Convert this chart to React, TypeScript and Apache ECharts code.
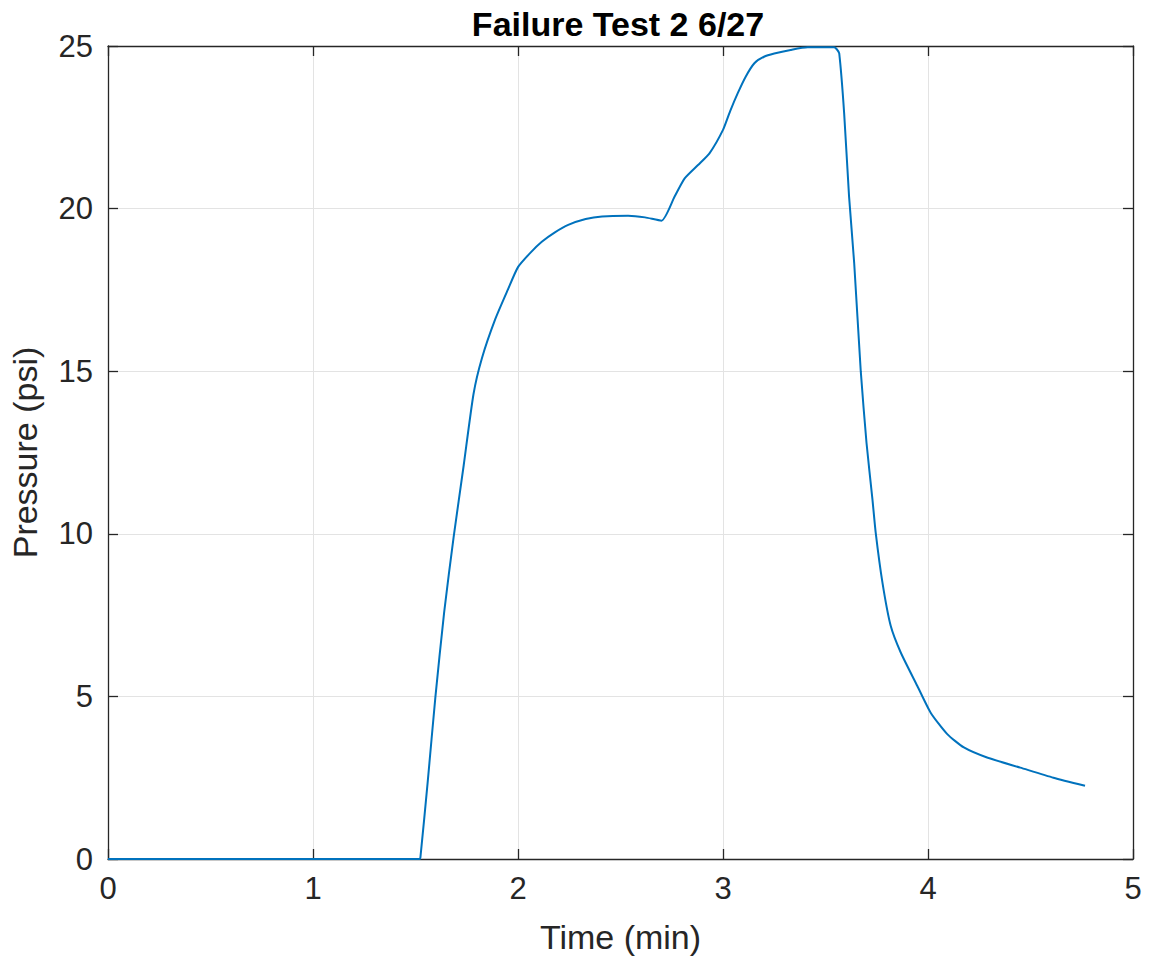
import React, { useEffect, useRef } from "react";
import * as echarts from "echarts";

const timeMin = [
  0, 1.52, 1.524, 1.56, 1.597, 1.64, 1.686, 1.735, 1.783, 1.824, 1.889, 1.95, 2.0,
  2.06, 2.116, 2.18, 2.245, 2.33, 2.41, 2.537, 2.62, 2.7, 2.764, 2.813, 2.878,
  2.934, 3.0, 3.035, 3.072, 3.11, 3.153, 3.2, 3.25, 3.33, 3.413, 3.542, 3.555,
  3.567, 3.591, 3.615, 3.64, 3.672, 3.7, 3.729, 3.745, 3.778, 3.818, 3.867, 3.948,
  4.013, 4.094, 4.175, 4.288, 4.45, 4.612, 4.766,
];
const pressurePsi = [
  0, 0, 0.05, 2.4, 4.98, 7.6, 9.9, 12.1, 14.3, 15.4, 16.6, 17.5, 18.2,
  18.64, 18.98, 19.27, 19.5, 19.68, 19.76, 19.78, 19.73, 19.63, 20.37, 20.93, 21.34,
  21.7, 22.42, 23.0, 23.55, 24.05, 24.47, 24.67, 24.77, 24.88, 24.96, 24.96, 24.9,
  24.77, 22.93, 20.37, 18.32, 15.0, 12.8, 11.06, 10.03, 8.49, 7.17, 6.35, 5.32,
  4.5, 3.84, 3.43, 3.12, 2.81, 2.5, 2.25,
];
const xTicks = [0, 1, 2, 3, 4, 5];
const yTicks = [0, 5, 10, 15, 20, 25];

const titleText = "Failure Test 2 6/27";
const xLabel = "Time (min)";
const yLabel = "Pressure (psi)";

const FONT = "'Liberation Sans', Arial, Helvetica, sans-serif";
const AX = "#262626";

export default function App() {
  const ref = useRef<HTMLDivElement>(null);
  useEffect(() => {
    if (!ref.current) return;
    const chart = echarts.init(ref.current, undefined, { renderer: "svg" });
    const data = timeMin.map((t, i) => [t, pressurePsi[i]]);
    const common = {
      axisLine: { show: true, onZero: false, lineStyle: { color: AX, width: 1.3 } },
      axisTick: { show: true, inside: true, length: 10, lineStyle: { color: AX, width: 1.3 } },
    };
    chart.setOption({
      animation: false,
      backgroundColor: "#ffffff",
      title: {
        text: titleText,
        left: 613,
        top: 2,
        textAlign: "center",
        textStyle: { fontFamily: FONT, fontSize: 34, fontWeight: "bold", color: "#000000" },
      },
      grid: { left: 105, top: 46, width: 1028, height: 814, containLabel: false },
      xAxis: [
        {
          type: "value",
          min: xTicks[0],
          max: xTicks[xTicks.length - 1],
          interval: 1,
          position: "bottom",
          name: xLabel,
          nameLocation: "middle",
          nameGap: 61,
          nameTextStyle: { fontFamily: FONT, fontSize: 34, color: AX },
          ...common,
          axisLabel: { fontFamily: FONT, fontSize: 31, color: AX, margin: 14 },
          splitLine: { show: true, lineStyle: { color: "#e3e3e3", width: 1 } },
        },
        {
          type: "value",
          min: xTicks[0],
          max: xTicks[xTicks.length - 1],
          interval: 1,
          position: "top",
          ...common,
          axisLabel: { show: false },
          splitLine: { show: false },
        },
      ],
      yAxis: [
        {
          type: "value",
          min: yTicks[0],
          max: yTicks[yTicks.length - 1],
          interval: 5,
          position: "left",
          name: yLabel,
          nameLocation: "middle",
          nameGap: 66,
          nameRotate: 90,
          nameTextStyle: { fontFamily: FONT, fontSize: 34, color: AX },
          ...common,
          axisLabel: { fontFamily: FONT, fontSize: 31, color: AX, margin: 15 },
          splitLine: { show: true, lineStyle: { color: "#e3e3e3", width: 1 } },
        },
        {
          type: "value",
          min: yTicks[0],
          max: yTicks[yTicks.length - 1],
          interval: 5,
          position: "right",
          ...common,
          axisLabel: { show: false },
          splitLine: { show: false },
        },
      ],
      series: [
        {
          type: "line",
          data,
          showSymbol: false,
          symbol: "none",
          smooth: 0.2,
          lineStyle: { color: "#0072BD", width: 2 },
          xAxisIndex: 0,
          yAxisIndex: 0,
        },
      ],
    });
    return () => chart.dispose();
  }, []);
  return (
    <div
      ref={ref}
      style={{ position: "fixed", left: 0, top: 0, width: 1149, height: 959, background: "#fff" }}
    />
  );
}
